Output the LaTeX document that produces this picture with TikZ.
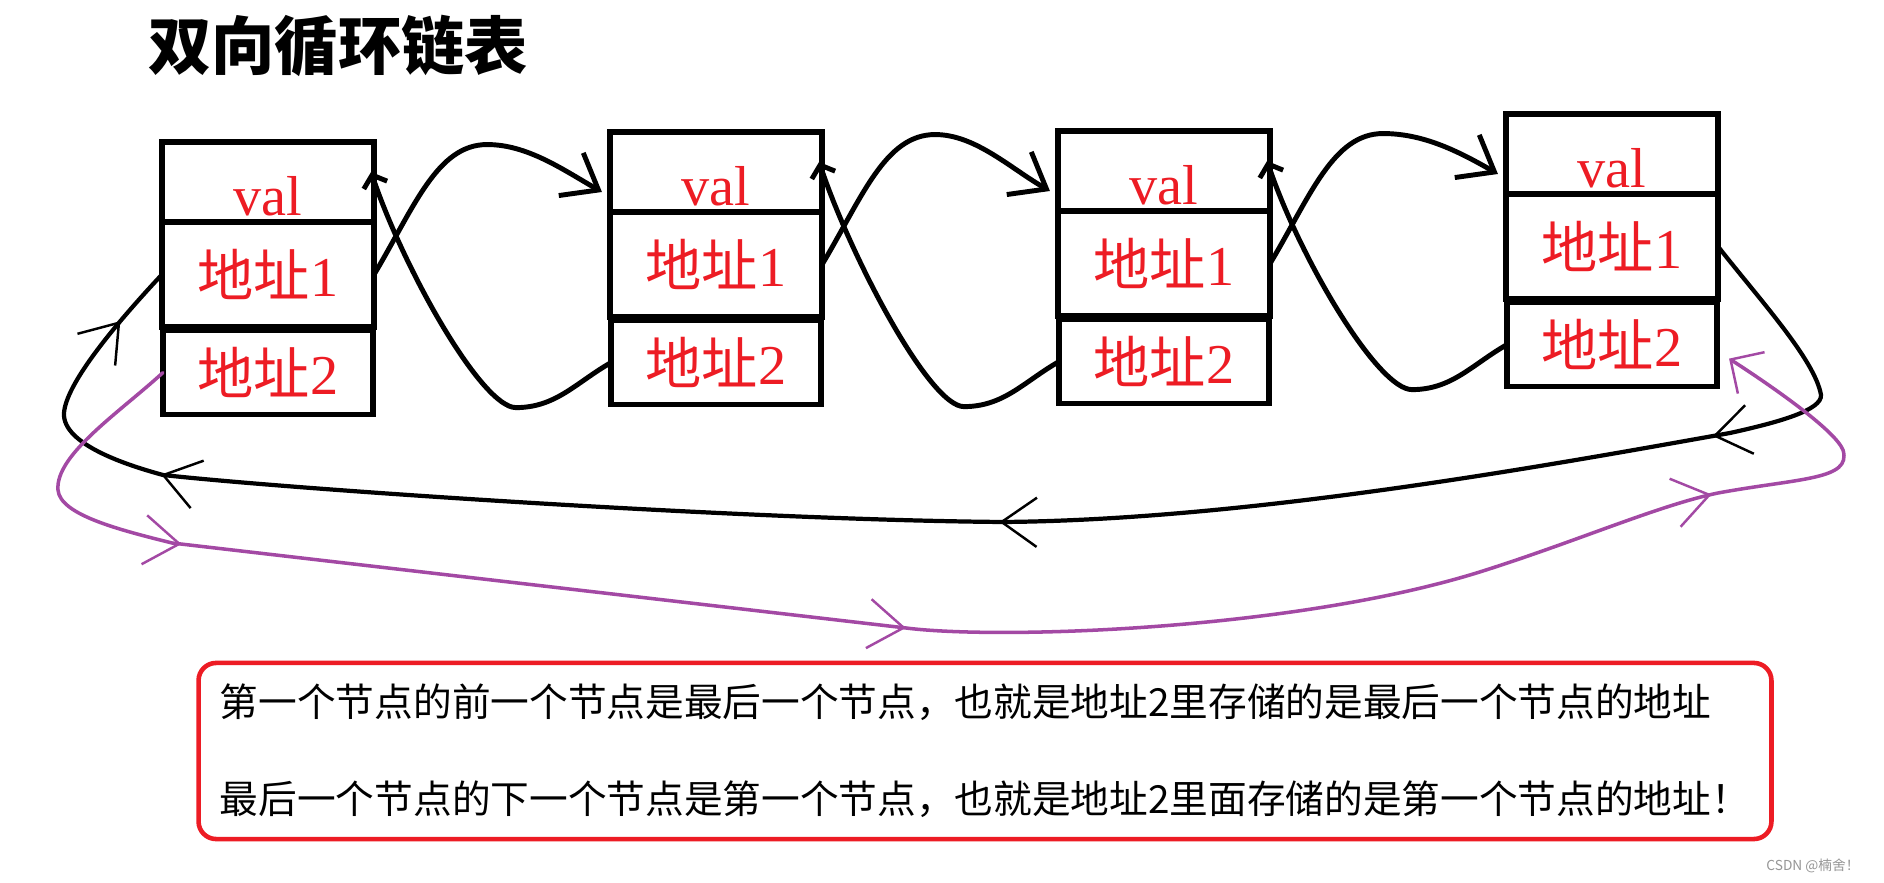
\documentclass[tikz,border=0pt]{standalone}
\usepackage{fontspec}
\setmainfont{Liberation Serif}
\newfontfamily\cjk{Noto Sans CJK SC}
\usepackage{tikz}
\usetikzlibrary{positioning, arrows.meta, calc, decorations.markings}
\definecolor{paintred}{RGB}{237,28,36}
\definecolor{paintpurple}{RGB}{163,73,164}
\definecolor{marktext}{RGB}{150,150,150}
\newcommand{\valtext}{\raisebox{-4pt}[\height][0pt]{val}\hspace{8pt}}
\newcommand{\dizhi}[1]{{\cjk 地址}#1}
\tikzset{
  cell/.style={
    rectangle, draw=black, line width=1.5pt, outer sep=0pt, inner sep=0pt,
    minimum width=2.12cm, text=paintred, font=\fontsize{16pt}{18pt}\selectfont
  },
  valcell/.style={cell, minimum height=0.80cm},
  nextcell/.style={cell, minimum height=1.05cm},
  prevcell/.style={cell, minimum width=2.10cm, minimum height=0.84cm},
  midtip/.tip={Straight Barb[length=10pt, width=14pt, line width=0.7pt]},
  link/.style={draw, line width=1.4pt, line cap=round, -{Straight Barb[length=9pt, width=14pt]}},
  backlink/.style={draw, line width=1.4pt, line cap=round, -{Straight Barb[length=3pt, width=7pt]}},
  blackring/.style={
    draw, line width=1.2pt, line cap=round, postaction={decorate},
    decoration={markings,
      mark=at position 0.140 with {\arrow{midtip}},
      mark=at position 0.474 with {\arrow{midtip}},
      mark=at position 0.864 with {\arrow{midtip}},
      mark=at position 0.971 with {\arrow{midtip}}}
  },
  purplering/.style={
    draw, color=paintpurple, line width=1pt, line cap=round, postaction={decorate},
    -{Straight Barb[length=7pt, width=14pt, line width=0.7pt]},
    decoration={markings,
      mark=at position 0.140 with {\arrow{midtip}},
      mark=at position 0.479 with {\arrow{midtip}},
      mark=at position 0.862 with {\arrow{midtip}}}
  },
  note/.style={
    draw=paintred, line width=1.3pt, rounded corners=5pt,
    minimum width=15.72cm, minimum height=1.76cm, align=left,
    font=\cjk\fontsize{11pt}{27.6pt}\selectfont
  },
}
\begin{document}
\begin{tikzpicture}[x=0.01cm, y=-0.01cm]
  \path[fill=white, use as bounding box] (0,0) rectangle (1884,883);

  % title
  \node (title) at (338,46) {\cjk\fontsize{18pt}{20pt}\selectfont\bfseries 双向循环链表};

  % the four nodes: val / 地址1 / 地址2
  \foreach \i/\x/\y in {1/268/182, 2/716/172, 3/1164/171, 4/1612/154} {
    \node[valcell] (val\i) at (\x,\y) {\valtext};
    \node[nextcell, below=0pt of val\i] (next\i) {\dizhi{1}};
    \node[prevcell, below=1pt of next\i] (prev\i) {\dizhi{2}\hspace{6pt}};
  }

  % links between neighbours
  \foreach \i/\j in {1/2, 2/3, 3/4} {
    \draw[link] (next\i.east) .. controls +(40,-67) and +(-50,0) .. ($(next\i.east)+(113,-130)$)
      .. controls +(40,0) and +(-40,-23) .. ($(val\j.west)+(-8,20)$);
    \draw[backlink] (prev\j.west) .. controls +(-35,20) and +(40,0) .. ($(prev\j.west)+(-95,45)$)
      .. controls +(-34,0) and +(33,98) .. ($(val\i.east)+(-3,-10)$);
  }

  % last node back to the first one
  \draw[blackring] (next4.east) .. controls (1760,300) and (1815,360) .. (1821,395)
    .. controls (1822,410) and (1780,422) .. (1730,433)
    .. controls (1550,465) and (1250,520) .. (1003,522)
    .. controls (750,520) and (300,490) .. (163,475)
    .. controls (130,466) and (62,445) .. (64,413)
    .. controls (66,385) and (110,330) .. (next1.west);

  % first node forward to the last one
  \draw[purplering] (prev1.west) .. controls (120,412) and (55,455) .. (58,490)
    .. controls (60,515) and (120,530) .. (172,543) -- (906,628)
    .. controls (1000,640) and (1300,630) .. (1486,570)
    .. controls (1580,540) and (1660,505) .. (1718,493)
    .. controls (1800,478) and (1852,480) .. (1843,450)
    .. controls (1835,430) and (1770,385) .. ($(prev4.east)+(12,14)$);

  % explanation
  \node[note] (text) at (985,751) {第一个节点的前一个节点是最后一个节点，也就是地址2里存储的是最后一个节点的地址\\
    最后一个节点的下一个节点是第一个节点，也就是地址2里面存储的是第一个节点的地址！};

  \node[anchor=east, text=marktext, font=\cjk\fontsize{3.9pt}{4.5pt}\selectfont] (credit) at (1872,866) {CSDN @楠舍！};
\end{tikzpicture}
\end{document}
